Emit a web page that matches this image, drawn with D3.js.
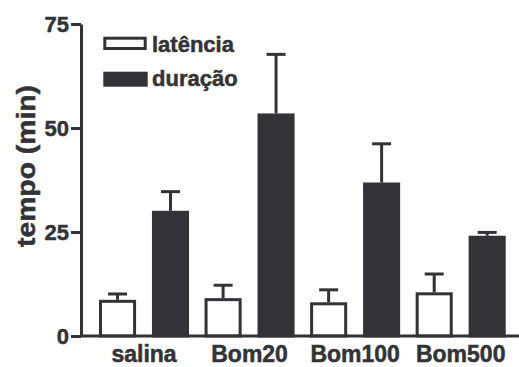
<!DOCTYPE html>
<html>
<head>
<meta charset="utf-8">
<script src="https://cdn.jsdelivr.net/npm/d3@7"></script>
<style>
  body { margin: 0; background: #fff; }
  svg text { font-family: "Liberation Sans", Arial, sans-serif; font-weight: bold; fill: #333337; stroke: #333337; stroke-width: 0.5px; }
</style>
</head>
<body>
<div id="chart"></div>
<script>
// ===== DADOS =====
const groups = ["salina", "Bom20", "Bom100", "Bom500"];
const series = ["latência", "duração"];
const latencia = [8.7, 9.1, 8.1, 10.5];
const latenciaErr = [1.4, 3.1, 3.0, 4.4];
const duracao = [30.1, 53.5, 36.9, 24.1];
const duracaoErr = [4.6, 14.2, 9.3, 0.8];
const yTicks = [0, 25, 50, 75];

const ink = "#333337";
const width = 519;
const height = 367;

const svg = d3.select("#chart").append("svg")
  .attr("width", width)
  .attr("height", height);

// ===== ESCALAS =====
const x = d3.scaleBand()
  .domain(groups)
  .range([99, 505.7])
  .paddingInner(0.147)
  .paddingOuter(0);

const xInner = d3.scaleBand()
  .domain(series)
  .range([0, x.bandwidth()])
  .paddingInner(0.3);

const y = d3.scaleLinear()
  .domain([0, 75])
  .range([336, 24]);

// linhas por barra
const rows = [];
groups.forEach((g, i) => {
  rows.push({ group: g, serie: series[0], value: latencia[i], err: latenciaErr[i] });
  rows.push({ group: g, serie: series[1], value: duracao[i], err: duracaoErr[i] });
});

// ===== BARRAS =====
const sw = 3;

// barras de erro (so para cima)
const err = svg.append("g")
  .attr("stroke", ink)
  .attr("stroke-width", sw);

rows.forEach(r => {
  const cx = x(r.group) + xInner(r.serie) + xInner.bandwidth() / 2;
  err.append("line")
    .attr("x1", cx).attr("x2", cx)
    .attr("y1", y(r.value)).attr("y2", y(r.value + r.err));
  err.append("line")
    .attr("x1", cx - 9.5).attr("x2", cx + 9.5)
    .attr("y1", y(r.value + r.err)).attr("y2", y(r.value + r.err));
});

svg.append("g")
  .selectAll("rect")
  .data(rows)
  .enter()
  .append("rect")
  .attr("x", d => x(d.group) + xInner(d.serie) + sw / 2)
  .attr("y", d => y(d.value) + sw / 2)
  .attr("width", xInner.bandwidth() - sw)
  .attr("height", d => y(0) - y(d.value) - sw / 2)
  .attr("fill", d => d.serie === series[0] ? "#fff" : ink)
  .attr("stroke", ink)
  .attr("stroke-width", sw);

// ===== EIXOS =====
const yAxis = svg.append("g")
  .attr("transform", "translate(81,0)")
  .call(d3.axisLeft(y).tickValues(yTicks).tickSize(10).tickSizeOuter(0).tickPadding(2));

yAxis.select(".domain").attr("stroke", ink).attr("stroke-width", sw);
yAxis.selectAll(".tick line").attr("stroke", ink).attr("stroke-width", sw);
yAxis.selectAll(".tick text")
  .style("font-size", "22px")
  .attr("dy", "0.36em");

// eixo x: so a linha e os rotulos
svg.append("line")
  .attr("x1", 81).attr("x2", width)
  .attr("y1", y(0)).attr("y2", y(0))
  .attr("stroke", ink)
  .attr("stroke-width", sw);

svg.append("g")
  .selectAll("text")
  .data(groups)
  .enter()
  .append("text")
  .attr("x", d => x(d) + x.bandwidth() / 2)
  .attr("y", 361.5)
  .attr("text-anchor", "middle")
  .style("font-size", "23px")
  .text(d => d);

// titulo do eixo y
svg.append("text")
  .attr("transform", "translate(35,166) rotate(-90)")
  .attr("text-anchor", "middle")
  .style("font-size", "25px")
  .attr("textLength", 162)
  .attr("lengthAdjust", "spacingAndGlyphs")
  .text("tempo (min)");

// ===== LEGENDA =====
const legend = svg.append("g");

legend.append("rect")
  .attr("x", 104.8).attr("y", 38.2)
  .attr("width", 40.4).attr("height", 10.3)
  .attr("fill", "#fff")
  .attr("stroke", ink)
  .attr("stroke-width", sw);

legend.append("rect")
  .attr("x", 103.3).attr("y", 71.7)
  .attr("width", 44.4).attr("height", 15)
  .attr("fill", ink);

legend.append("text")
  .attr("x", 152).attr("y", 51.5)
  .style("font-size", "22px")
  .style("font-weight", "bold")
  .text(series[0]);

legend.append("text")
  .attr("x", 152).attr("y", 86)
  .style("font-size", "22px")
  .style("font-weight", "bold")
  .text(series[1]);
</script>
</body>
</html>
